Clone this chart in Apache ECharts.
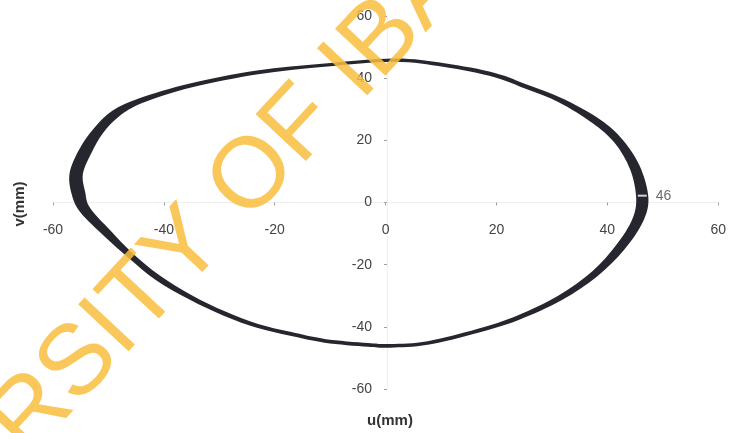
<!DOCTYPE html>
<html>
<head>
<meta charset="utf-8">
<script src="https://cdn.jsdelivr.net/npm/echarts@6/dist/echarts.min.js"></script>
<style>
  html, body { margin: 0; padding: 0; background: #fff; }
  #chart { width: 729px; height: 433px; }
</style>
</head>
<body>
<div id="chart"></div>
<script>
// outer and inner edge of the orbit band, [u, v] in mm
const outerEdge = [
  [1.6, 46.3], [-11.0, 44.7], [-23.2, 42.5], [-35.3, 38.3], [-44.3, 33.6],
  [-49.3, 29.5], [-52.6, 23.9], [-55.2, 17.3], [-57.0, 9.5], [-56.6, 2.5],
  [-55.0, -3.3], [-50.7, -10.9], [-46.3, -17.9], [-41.4, -25.0], [-35.3, -31.3],
  [-29.1, -36.5], [-23.2, -40.3], [-17.2, -42.9], [-11.0, -45.1], [-3.2, -46.4],
  [0.9, -46.7], [7.6, -45.8], [16.7, -41.9], [24.0, -37.8], [31.8, -31.4],
  [38.2, -23.7], [43.0, -15.3], [46.4, -6.3], [47.4, 1.6], [45.8, 11.9],
  [42.4, 20.9], [38.1, 27.4], [31.7, 33.6], [25.7, 37.8], [19.7, 41.7], [10.6, 44.8]
];
const innerEdge = [
  [1.6, 45.3], [-11.0, 43.7], [-23.0, 41.3], [-34.9, 37.1], [-43.8, 32.1],
  [-48.1, 27.7], [-51.0, 22.3], [-53.0, 16.2], [-54.6, 9.3], [-54.2, 3.4],
  [-53.3, -1.8], [-49.6, -9.1], [-45.6, -16.4], [-40.8, -23.4], [-34.9, -29.9],
  [-28.9, -35.1], [-23.0, -39.1], [-17.0, -41.7], [-11.0, -43.9], [-3.2, -45.2],
  [0.9, -45.5], [7.6, -44.6], [16.5, -40.7], [23.7, -36.4], [31.2, -29.9],
  [37.3, -22.1], [41.6, -13.7], [44.5, -5.4], [45.2, 1.6], [44.1, 10.7],
  [41.3, 19.2], [37.3, 25.6], [31.3, 32.2], [25.5, 36.4], [19.5, 40.4], [10.6, 43.6]
];

// marked maximum of u
const peakPoint = [46.3, 2.2];
const peakLabel = "46";

const inkColor = "#26262f";
const labelColor = "#444";

// closed catmull-rom curve through pixel points, as svg path data
function closedCurve(pts) {
  const n = pts.length;
  let d = "M" + pts[0][0] + "," + pts[0][1];
  for (let i = 0; i < n; i++) {
    const p0 = pts[(i - 1 + n) % n], p1 = pts[i], p2 = pts[(i + 1) % n], p3 = pts[(i + 2) % n];
    const c1 = [p1[0] + (p2[0] - p0[0]) / 6, p1[1] + (p2[1] - p0[1]) / 6];
    const c2 = [p2[0] - (p3[0] - p1[0]) / 6, p2[1] - (p3[1] - p1[1]) / 6];
    d += " C" + c1[0] + "," + c1[1] + " " + c2[0] + "," + c2[1] + " " + p2[0] + "," + p2[1];
  }
  return d + " Z";
}

const chart = echarts.init(document.getElementById("chart"));

const axisCommon = {
  type: "value",
  min: -60,
  max: 60,
  interval: 20,
  splitLine: { show: false },
  axisLine: { show: true, onZero: false, lineStyle: { color: "#efefef", width: 1 } },
  axisTick: { show: true, length: 3, lineStyle: { color: "#a0a0a0" } }
};

chart.setOption({
  animation: false,
  backgroundColor: "#fff",
  grid: { left: 53, right: 8, top: 16, bottom: 44 },
  xAxis: Object.assign({}, axisCommon, {
    position: "bottom",
    offset: -186.5, // axis runs through v = 0
    axisLabel: { margin: 21, color: labelColor, fontSize: 14, fontFamily: "Liberation Sans" }
  }),
  yAxis: Object.assign({}, axisCommon, {
    position: "left",
    offset: -334, // axis runs through u = 0
    axisLabel: { margin: 15, color: labelColor, fontSize: 14, fontFamily: "Liberation Sans" }
  }),
  series: [
    {
      type: "custom",
      silent: true,
      data: [[0, 0]],
      renderItem: function (params, api) {
        const outer = outerEdge.map(p => api.coord(p));
        const inner = innerEdge.map(p => api.coord(p)).reverse();
        return {
          type: "path",
          shape: { pathData: closedCurve(outer) + " " + closedCurve(inner) },
          style: { fill: inkColor }
        };
      },
      z: 2
    },
    {
      type: "scatter",
      silent: true,
      data: [peakPoint],
      symbol: "rect",
      symbolSize: [9, 2],
      itemStyle: { color: "#fff" },
      label: {
        show: true,
        position: "right",
        distance: 9,
        formatter: peakLabel,
        color: labelColor,
        fontSize: 14,
        fontFamily: "Liberation Sans"
      },
      z: 3
    }
  ],
  graphic: [
    {
      type: "text",
      x: 390,
      y: 421,
      style: {
        text: "u(mm)",
        font: "bold 15px 'Liberation Sans'",
        fill: "#333",
        align: "center",
        verticalAlign: "middle"
      }
    },
    {
      type: "text",
      x: 20,
      y: 204,
      rotation: Math.PI / 2,
      style: {
        text: "v(mm)",
        font: "bold 15px 'Liberation Sans'",
        fill: "#333",
        align: "center",
        verticalAlign: "middle"
      }
    },
    {
      // scanned watermark
      type: "text",
      x: 229,
      y: 203,
      rotation: 47 * Math.PI / 180,
      z: 100,
      silent: true,
      style: {
        text: "RSITY OF IBA",
        font: "100px 'Liberation Sans'",
        fill: "rgba(249,190,61,0.85)",
        align: "center",
        verticalAlign: "middle"
      }
    }
  ]
});
</script>
</body>
</html>
